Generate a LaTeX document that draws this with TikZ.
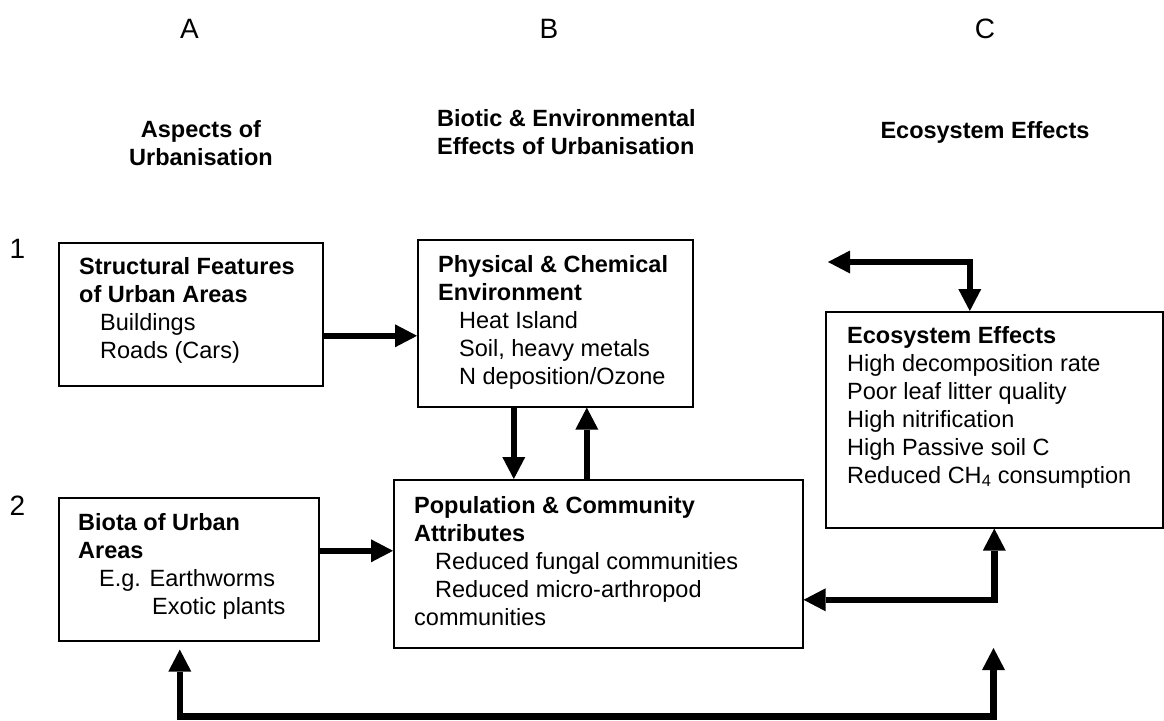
\documentclass[tikz,border=0pt]{standalone}
\usepackage{fontspec}
\setmainfont{Liberation Sans}
\usetikzlibrary{arrows.meta}
\newcommand\bodysize{\fontsize{23.5}{28}\selectfont}

\begin{document}
\begin{tikzpicture}[x=1pt,y=-1pt,font=\bodysize,
  >={Triangle[length=22pt,width=23pt,line width=0pt]},
  bx/.style={draw,line width=1.6pt,anchor=north west,inner sep=0pt},
  tx/.style={anchor=base west,align=left,inner sep=0pt},
  hd/.style={anchor=base,align=center,inner sep=0pt,font=\bodysize\bfseries},
  lb/.style={anchor=base,inner sep=0pt,font=\fontsize{28}{32}\selectfont},
  ar/.style={->,line width=6.5pt}]
  \useasboundingbox (0,0) rectangle (1164,720);
  % columns and rows (multi-line texts sit on their last baseline)
  \node[lb] (colA) at (189.5,38) {A};
  \node[lb] (colB) at (549,38) {B};
  \node[lb] (colC) at (985,38) {C};
  \node[lb] (row1) at (17.5,258) {1};
  \node[lb] (row2) at (17.5,515) {2};
  \node[hd] (hA) at (201,165) {Aspects of\\Urbanisation};
  \node[hd,anchor=base west,align=left] (hB) at (437,154) {Biotic \& Environmental\\Effects of Urbanisation};
  \node[hd] (hC) at (985,138) {Ecosystem Effects};
  % boxes
  \node[bx,minimum width=264pt,minimum height=143pt] (st) at (58,242) {};
  \node[tx] (stT) at (79,358) {\textbf{Structural Features}\\\textbf{of Urban Areas}\\\hspace*{21pt}Buildings\\\hspace*{21pt}Roads (Cars)};
  \node[bx,minimum width=275pt,minimum height=167pt] (ph) at (417,239) {};
  \node[tx] (phT) at (438,384) {\textbf{Physical \& Chemical}\\\textbf{Environment}\\\hspace*{21pt}Heat Island\\\hspace*{21pt}Soil, heavy metals\\\hspace*{21pt}N deposition/Ozone};
  \node[bx,minimum width=337pt,minimum height=216pt] (eco) at (825,311) {};
  \node[tx] (ecoT) at (847,483) {\textbf{Ecosystem Effects}\\High decomposition rate\\Poor leaf litter quality\\High nitrification\\High Passive soil C\\Reduced CH\textsubscript{4} consumption};
  \node[bx,minimum width=260pt,minimum height=143pt] (bi) at (58,497) {};
  \node[tx] (biT) at (78,614) {\textbf{Biota of Urban}\\\textbf{Areas}\\\hspace*{21pt}E.g. Earthworms\\\hspace*{74pt}Exotic plants};
  \node[bx,minimum width=409pt,minimum height=168pt] (po) at (393,479) {};
  \node[tx] (poT) at (414,625) {\textbf{Population \& Community}\\\textbf{Attributes}\\\hspace*{21pt}Reduced fungal communities\\\hspace*{21pt}Reduced micro-arthropod\\communities};
  % arrows
  \draw[ar] ([yshift=-21.5pt]st.east) coordinate (s1) -- (s1 -| ph.west);
  \draw[ar] ([yshift=18.5pt]bi.east) coordinate (b1) -- (b1 -| po.west);
  \foreach \dx/\dir in {-41.5/->,31.5/<-}
    \draw[ar,\dir] ([xshift=\dx pt]ph.south) coordinate (v) -- (v |- po.north);
  \coordinate (tl) at (828,262);
  \draw[ar,<->] (tl) -| ([xshift=-24.5pt]eco.north);
  \draw[ar,<->] ([yshift=-36pt]po.east) -| (eco.south);
  \coordinate (lr) at (993.5,648);
  \draw[ar,<->] ([xshift=-9pt,yshift=-8pt]bi.south) -- ++(0,67) -| (lr);
\end{tikzpicture}
\end{document}
